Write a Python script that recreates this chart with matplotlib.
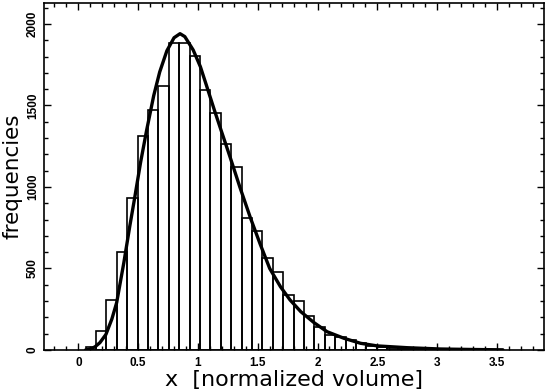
import numpy as np
import matplotlib
matplotlib.use('Agg')
import matplotlib.pyplot as plt
from matplotlib.ticker import MultipleLocator

# histogram bins (left edges) and counts
bin_left = [0.060, 0.147, 0.234, 0.321, 0.408, 0.495, 0.582, 0.669, 0.756, 0.843,
            0.930, 1.017, 1.104, 1.191, 1.278, 1.365, 1.452, 1.539, 1.626, 1.713,
            1.800, 1.887, 1.974, 2.061, 2.148, 2.235, 2.322, 2.409, 2.496, 2.583,
            2.670, 2.757, 2.844, 2.931, 3.018, 3.105, 3.192, 3.279, 3.366, 3.453]
counts = [16, 116, 307, 600, 930, 1315, 1472, 1620, 1885, 1885,
          1804, 1595, 1452, 1264, 1121, 808, 730, 562, 477, 337,
          300, 211, 143, 92, 80, 62, 40, 25, 18, 12,
          8, 5, 3, 2, 0, 0, 0, 2, 1, 1]
bin_width = 0.087

# fitted curve
fit_x = [0.06, 0.10, 0.14, 0.18, 0.23, 0.28, 0.32, 0.38, 0.43, 0.47,
         0.52, 0.57, 0.63, 0.68, 0.74, 0.80, 0.85, 0.89, 0.96, 1.02,
         1.07, 1.14, 1.19, 1.27, 1.35, 1.44, 1.52, 1.60, 1.69, 1.77,
         1.86, 1.97, 2.08, 2.22, 2.36, 2.50, 2.75, 3.03, 3.30, 3.55]
fit_y = [0, 5, 20, 45, 95, 190, 290, 535, 760, 930,
         1150, 1345, 1560, 1705, 1835, 1915, 1940, 1922, 1840, 1738,
         1625, 1465, 1355, 1180, 1000, 808, 650, 500, 388, 307,
         235, 168, 112, 72, 41, 25, 14, 6, 3, 1]

plt.rcParams['font.family'] = ['Liberation Sans', 'DejaVu Sans']

fig = plt.figure(figsize=(5.45, 3.91), dpi=100)
ax = fig.add_axes([0.0813, 0.1049, 0.9160, 0.8882])

left = np.array(bin_left)
h = np.array(counts)
keep = h > 0
ax.bar(left[keep], h[keep], width=bin_width, align='edge',
       fill=False, edgecolor='black', linewidth=1.2)

ax.plot(fit_x, fit_y, color='black', linewidth=2.4,
        solid_capstyle='round', solid_joinstyle='round')

ax.set_xlim(-0.285, 3.89)
ax.set_ylim(0, 2130)

ax.xaxis.set_major_locator(MultipleLocator(0.5))
ax.xaxis.set_minor_locator(MultipleLocator(0.1))
ax.yaxis.set_major_locator(MultipleLocator(500))
ax.yaxis.set_minor_locator(MultipleLocator(100))
ax.set_xticks([0, 0.5, 1, 1.5, 2, 2.5, 3, 3.5])
ax.set_xticklabels(['0', '0.5', '1', '1.5', '2', '2.5', '3', '3.5'])

ax.tick_params(which='both', direction='in', top=True, right=True,
               width=1.0, labelsize=8.5)
ax.tick_params(which='major', length=5)
ax.tick_params(which='minor', length=3)
ax.tick_params(axis='x', pad=5)
ax.tick_params(axis='y', pad=4)
for lab in ax.get_xticklabels() + ax.get_yticklabels():
    lab.set_fontweight('bold')
for lab in ax.get_yticklabels():
    lab.set_rotation(90)
    lab.set_va('center')

for s in ax.spines.values():
    s.set_linewidth(1.2)

ax.set_xlabel('x  [normalized volume]', fontsize=16, family='DejaVu Sans',
              labelpad=1)
ax.set_ylabel('frequencies', fontsize=15.5, family='DejaVu Sans', labelpad=3)

fig.savefig('out.png', dpi=100)
